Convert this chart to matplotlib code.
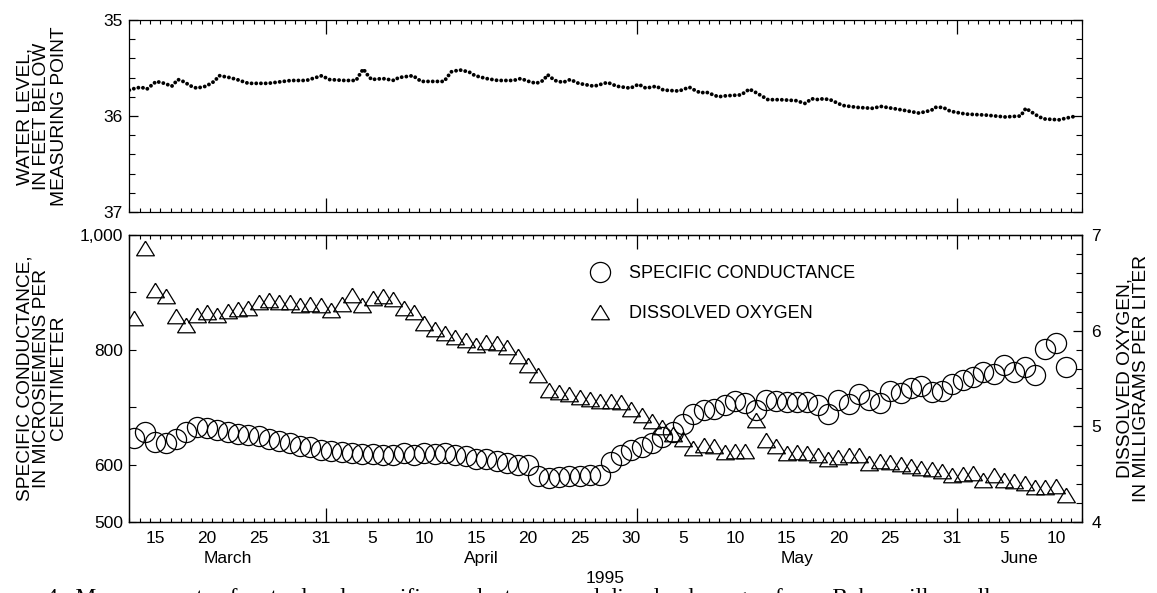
import numpy as np
import pandas as pd
import matplotlib
matplotlib.use('Agg')
import matplotlib.pyplot as plt
import matplotlib.dates as mdates
from matplotlib.ticker import MultipleLocator, FixedLocator, NullFormatter

plt.rcParams['font.family'] = ['Liberation Sans', 'DejaVu Sans']

# ---- data (1995) ----
x_start = pd.Timestamp('1995-03-13')
x_end = pd.Timestamp('1995-06-13')

# water level: days after March 13 00:00, feet below measuring point
wl_day = [0.0, 0.6, 1.15, 1.7, 2.6, 3.4, 4.1, 4.7, 5.2, 6.0, 6.5, 7.4, 8.2, 8.7, 9.7,
          10.4, 11.5, 13.4, 15.6, 17.1, 18.6, 19.3, 20.8, 21.9, 22.3, 22.6, 23.0,
          23.4, 24.5, 25.6, 26.0, 27.4, 28.2, 30.4, 31.1, 31.9, 32.8, 33.4, 34.5,
          35.6, 37.1, 37.8, 38.6, 39.3, 40.0, 40.4, 41.1, 41.9, 42.6, 43.4, 44.9,
          46.2, 47.1, 48.4, 49.2, 49.9, 50.9, 51.6, 53.1, 54.1, 54.6, 55.2, 55.7,
          56.9, 57.6, 59.1, 59.9, 60.6, 61.7, 62.9, 64.4, 65.3, 65.9, 66.6, 67.0,
          67.7, 68.9, 70.3, 71.8, 72.6, 73.7, 74.8, 76.3, 77.5, 77.8, 78.6, 79.3,
          80.8, 82.7, 84.6, 86.1, 86.6, 87.6, 88.3, 89.8, 90.6, 91.5]
wl_ft = [35.73, 35.71, 35.70, 35.72, 35.64, 35.66, 35.69, 35.62, 35.64, 35.69, 35.71,
         35.69, 35.64, 35.58, 35.60, 35.62, 35.66, 35.66, 35.63, 35.63, 35.58, 35.62,
         35.63, 35.63, 35.56, 35.51, 35.57, 35.62, 35.61, 35.63, 35.60, 35.58, 35.64,
         35.64, 35.54, 35.52, 35.54, 35.58, 35.61, 35.63, 35.63, 35.61, 35.64, 35.66,
         35.63, 35.57, 35.63, 35.65, 35.62, 35.66, 35.69, 35.65, 35.69, 35.71, 35.67,
         35.71, 35.69, 35.73, 35.74, 35.70, 35.73, 35.76, 35.75, 35.80, 35.79, 35.78,
         35.72, 35.76, 35.83, 35.83, 35.84, 35.87, 35.82, 35.83, 35.82, 35.83, 35.89,
         35.91, 35.92, 35.90, 35.92, 35.94, 35.97, 35.94, 35.91, 35.91, 35.95, 35.98,
         35.99, 36.01, 36.00, 35.92, 35.99, 36.03, 36.04, 36.02, 36.00]

# daily samples March 13 - June 11
sample_dates = pd.date_range('1995-03-13', '1995-06-11', freq='D')
spec_cond = [647, 657, 640, 638, 644, 657, 665, 663, 660, 657, 654, 651, 649, 645, 641,
             637, 632, 631, 626,
             624, 622, 620, 619, 618, 616, 616, 620, 616, 620, 619, 620, 617, 615, 610,
             609, 607, 602, 599, 599, 581, 576, 578, 580, 581, 582, 582, 605, 616, 625,
             631, 638, 648, 657, 670, 688, 695, 696, 703, 711, 708, 695, 712, 711, 709,
             709, 709, 703, 689, 713, 706, 723, 712, 708, 728, 725, 734, 737, 727, 728,
             741,
             747, 753, 762, 758, 773, 762, 770, 756, 801, 811, 770]
diss_oxy = [6.13, 6.86, 6.42, 6.36, 6.15, 6.06, 6.16, 6.19, 6.16, 6.21, 6.23, 6.24, 6.30,
            6.32, 6.30, 6.30, 6.27, 6.28, 6.27,
            6.22, 6.28, 6.37, 6.27, 6.34, 6.36, 6.33, 6.24, 6.20, 6.08, 6.02, 5.98, 5.93,
            5.90, 5.85, 5.88, 5.87, 5.83, 5.73, 5.64, 5.54, 5.38, 5.36, 5.34, 5.31, 5.29,
            5.27, 5.27, 5.25, 5.18,
            5.12, 5.06, 4.99, 4.92, 4.87, 4.77, 4.81, 4.79, 4.73, 4.74, 4.74, 5.07, 4.86,
            4.79, 4.72, 4.73, 4.72, 4.70, 4.66, 4.68, 4.70, 4.70, 4.62, 4.64, 4.63, 4.61,
            4.59, 4.56, 4.55, 4.53, 4.49,
            4.50, 4.51, 4.44, 4.49, 4.44, 4.43, 4.41, 4.37, 4.37, 4.38, 4.28]

day_label_dates = ['1995-03-15', '1995-03-20', '1995-03-25', '1995-03-31',
                   '1995-04-05', '1995-04-10', '1995-04-15', '1995-04-20', '1995-04-25',
                   '1995-04-30', '1995-05-05', '1995-05-10', '1995-05-15', '1995-05-20',
                   '1995-05-25', '1995-05-31', '1995-06-05', '1995-06-10']
day_labels = ['15', '20', '25', '31', '5', '10', '15', '20', '25', '30',
              '5', '10', '15', '20', '25', '31', '5', '10']
month_names = ['March', 'April', 'May', 'June']
month_edges = ['1995-03-13', '1995-04-01', '1995-05-01', '1995-06-01', '1995-06-13']

caption = ('e 4.  Measurements of water level, specific conductance, and dissolved '
           'oxygen from  Bakersville  well,')

# ---- figure ----
W, H = 1157, 593
fig = plt.figure(figsize=(W / 100, H / 100), dpi=100)

def fx(px):
    return px / W

def fy(py):
    return 1 - py / H

L, R = 129.3, 1081.7
ax_wl = fig.add_axes([fx(L), fy(212), fx(R) - fx(L), fy(20) - fy(212)])
ax_sc = fig.add_axes([fx(L), fy(522), fx(R) - fx(L), fy(235) - fy(522)])
ax_do = ax_sc.twinx()

noon = pd.Timedelta(hours=12)
wl_x = (x_start + pd.to_timedelta(wl_day, unit='D')).to_numpy()
s_x = (sample_dates + noon).to_numpy()

ax_wl.plot(wl_x, wl_ft, color='black', lw=2.8, ls=(0, (0.01, 1.2)),
           dash_capstyle='round', solid_capstyle='round')

# slightly flattened open triangle like the original symbol
tri = [(0, 0.82), (-1, -0.82), (1, -0.82), (0, 0.82)]

ax_sc.plot(s_x, spec_cond, ls='none', marker='o', ms=14.5, mfc='none',
           mec='black', mew=0.9, label='SPECIFIC CONDUCTANCE')
ax_do.plot(s_x, diss_oxy, ls='none', marker=tri, ms=12.8, mfc='none',
           mec='black', mew=0.9, label='DISSOLVED OXYGEN')

for ax in (ax_wl, ax_sc, ax_do):
    ax.set_xlim(x_start.to_numpy(), x_end.to_numpy())
    ax.xaxis.set_major_locator(mdates.MonthLocator())
    ax.xaxis.set_minor_locator(mdates.DayLocator())
    ax.xaxis.set_major_formatter(NullFormatter())
    ax.xaxis.set_minor_formatter(NullFormatter())
    ax.tick_params(axis='x', which='major', direction='in', length=10, width=0.9,
                   top=True, bottom=True)
    ax.tick_params(axis='x', which='minor', direction='in', length=3.2, width=0.8,
                   top=True, bottom=True)
    for sp in ax.spines.values():
        sp.set_linewidth(0.9)

# water level axis
ax_wl.set_ylim(37, 35)
ax_wl.yaxis.set_major_locator(FixedLocator([35, 36, 37]))
ax_wl.yaxis.set_minor_locator(MultipleLocator(0.2))
ax_wl.tick_params(axis='y', which='major', direction='in', length=6.5, width=0.9,
                  left=True, right=True, labelsize=12.5, pad=4.5)
ax_wl.tick_params(axis='y', which='minor', direction='in', length=4, width=0.8,
                  left=True, right=True)

# specific conductance axis
ax_sc.set_ylim(500, 1000)
ax_sc.set_yticks([500, 600, 700, 800, 900, 1000])
ax_sc.set_yticklabels(['500', '600', '', '800', '', '1,000'])
ax_sc.tick_params(axis='y', direction='in', length=5, width=0.8, left=True,
                  right=False, labelsize=12.5, pad=4.5)

# dissolved oxygen axis
ax_do.set_ylim(4, 7)
ax_do.yaxis.set_major_locator(FixedLocator([4, 5, 6, 7]))
ax_do.yaxis.set_minor_locator(MultipleLocator(0.2))
ax_do.tick_params(axis='y', which='major', direction='in', length=6.5, width=0.9,
                  labelsize=12.5, pad=7)
ax_do.tick_params(axis='y', which='minor', direction='in', length=4, width=0.8)

# date labels
xt = ax_sc.get_xaxis_transform()
for d, lab in zip(day_label_dates, day_labels):
    ax_sc.text((pd.Timestamp(d) + noon).to_numpy(), -0.03, lab, transform=xt,
               ha='center', va='top', fontsize=12.5)
edges = pd.to_datetime(month_edges)
for i, name in enumerate(month_names):
    mid = edges[i] + (edges[i + 1] - edges[i]) / 2
    ax_sc.text(mid.to_numpy(), -0.1, name, transform=xt, ha='center', va='top',
               fontsize=12.5)
ax_sc.text(0.5, -0.17, '1995', transform=ax_sc.transAxes, ha='center', va='top',
           fontsize=12.5)

# axis titles
lab_kw = dict(rotation=90, ha='center', va='center', multialignment='center',
              fontsize=13.8, linespacing=1.0)
fig.text(fx(42), fy(116), 'WATER LEVEL,\nIN FEET BELOW\nMEASURING POINT', **lab_kw)
fig.text(fx(42), fy(378), 'SPECIFIC CONDUCTANCE,\nIN MICROSIEMENS PER\nCENTIMETER',
         **lab_kw)
fig.text(fx(1133), fy(378), 'DISSOLVED OXYGEN,\nIN MILLIGRAMS PER LITER', **lab_kw)

h1, l1 = ax_sc.get_legend_handles_labels()
h2, l2 = ax_do.get_legend_handles_labels()
ax_do.legend(h1 + h2, l1 + l2, loc='upper left', bbox_to_anchor=(fx(591), fy(265)),
             bbox_transform=fig.transFigure, frameon=False, fontsize=13,
             handlelength=1.0, handletextpad=1.1, labelspacing=1.3, borderpad=0,
             borderaxespad=0)

# figure caption, cut off by the lower edge as in the original scan
fig.text(fx(30), -0.0185, caption, ha='left', va='baseline', fontsize=16.8,
         family=['Liberation Serif', 'DejaVu Serif'])

fig.savefig('out.png', dpi=100)
